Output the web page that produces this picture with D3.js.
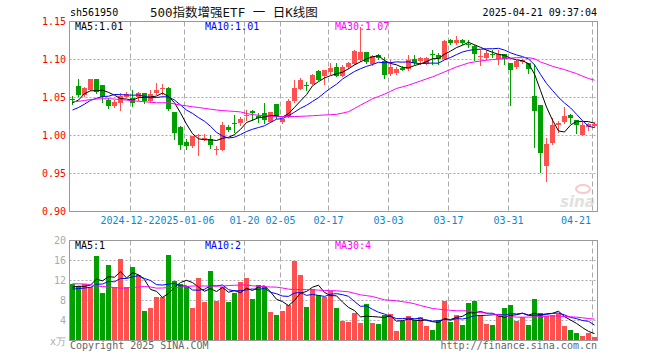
<!DOCTYPE html>
<html><head><meta charset="utf-8">
<script src="https://cdn.jsdelivr.net/npm/d3@7"></script>
<style>
body{margin:0;background:#fff}
svg{display:block}
text{font-family:'DejaVu Sans Mono',monospace;font-size:10px}
</style>
</head><body>
<svg id="c" width="660" height="360"></svg>
<script>
// ---------------- DATA ----------------
const dates = [
"2024-12-09","2024-12-10","2024-12-11","2024-12-12","2024-12-13","2024-12-16","2024-12-17","2024-12-18","2024-12-19","2024-12-20",
"2024-12-23","2024-12-24","2024-12-25","2024-12-26","2024-12-27","2024-12-30","2024-12-31",
"2025-01-02","2025-01-03","2025-01-06","2025-01-07","2025-01-08","2025-01-09","2025-01-10","2025-01-13","2025-01-14","2025-01-15","2025-01-16","2025-01-17",
"2025-01-20","2025-01-21","2025-01-22","2025-01-23","2025-01-24","2025-01-27",
"2025-02-05","2025-02-06","2025-02-07","2025-02-10","2025-02-11","2025-02-12","2025-02-13","2025-02-14","2025-02-17","2025-02-18","2025-02-19","2025-02-20","2025-02-21","2025-02-24","2025-02-25","2025-02-26","2025-02-27","2025-02-28",
"2025-03-03","2025-03-04","2025-03-05","2025-03-06","2025-03-07","2025-03-10","2025-03-11","2025-03-12","2025-03-13","2025-03-14","2025-03-17","2025-03-18","2025-03-19","2025-03-20","2025-03-21","2025-03-24","2025-03-25","2025-03-26","2025-03-27","2025-03-28","2025-03-31",
"2025-04-01","2025-04-02","2025-04-03","2025-04-07","2025-04-08","2025-04-09","2025-04-10","2025-04-11","2025-04-14","2025-04-15","2025-04-16","2025-04-17","2025-04-18","2025-04-21"];

const open = [1.0478,1.0649,1.0531,1.0605,1.074,1.0662,1.0466,1.0387,1.0431,1.0509,
1.0487,1.05,1.0562,1.0457,1.0553,1.0614,1.0631,1.0309,1.0117,0.9916,
0.9864,0.9998,0.9942,0.9951,0.9803,0.9811,1.0117,1.0169,1.016,1.0265,
1.0322,1.0252,1.0291,1.0182,1.0409,1.0182,1.0248,1.0453,1.061,1.0667,
1.0684,1.0845,1.078,1.0837,1.0902,1.078,1.0902,1.0946,1.0989,1.1099,
1.0946,1.1055,1.098,1.0815,1.0824,1.0893,1.088,1.1002,1.0975,1.0946,
1.1077,1.1055,1.1011,1.126,1.1216,1.126,1.1207,1.1173,1.1033,1.1024,
1.1072,1.1011,1.1077,1.0954,1.0902,1.0967,1.0954,1.0518,1.040,0.9602,
0.9899,1.0139,1.0178,1.0269,1.0204,1.0008,1.0117,1.0126];
const high = [1.0518,1.0749,1.064,1.074,1.074,1.0662,1.0487,1.0466,1.0553,1.0575,
1.0597,1.0575,1.0562,1.0597,1.0697,1.0675,1.064,1.0309,1.0126,0.9951,
0.9995,1.0021,1.0016,1.0007,0.9864,1.0182,1.0138,1.0269,1.024,1.0335,
1.0335,1.0291,1.0422,1.0313,1.0409,1.0217,1.0475,1.0728,1.075,1.071,
1.0806,1.0858,1.0859,1.0955,1.0955,1.0924,1.0967,1.112,1.1426,1.1099,
1.1055,1.107,1.1033,1.0998,1.0902,1.0911,1.1055,1.1055,1.1033,1.1033,
1.1129,1.1085,1.1251,1.1265,1.1303,1.1265,1.126,1.1186,1.112,1.112,
1.112,1.112,1.1077,1.0954,1.099,1.1011,1.0954,1.0946,1.040,0.9964,
1.0226,1.0196,1.037,1.0278,1.0204,1.0182,1.0169,1.0173];
const low = [1.0414,1.0518,1.052,1.0595,1.0562,1.0444,1.0357,1.0378,1.0335,1.05,
1.0387,1.0466,1.0422,1.0444,1.0544,1.0544,1.0335,0.9951,0.9824,0.982,
0.9846,0.9737,0.9942,0.9833,0.9755,0.9803,1.0064,1.0051,1.014,1.0204,
1.0204,1.0182,1.016,1.0173,1.0235,1.0169,1.0248,1.044,1.061,1.0597,
1.0675,1.0728,1.0684,1.081,1.078,1.078,1.089,1.0946,1.098,1.0955,
1.0924,1.101,1.075,1.0793,1.0815,1.0858,1.0867,1.0946,1.0946,1.094,
1.0946,1.0946,1.1011,1.1207,1.1207,1.1207,1.1164,1.0998,1.0924,1.1011,
1.1033,1.0946,1.0946,1.04,1.089,1.096,1.0824,0.9855,0.9515,0.9397,
0.989,1.0052,1.016,1.016,1.003,1.0004,1.0073,1.0117];
const close = [1.0475,1.0531,1.0627,1.074,1.0575,1.0509,1.0387,1.044,1.0518,1.0544,
1.0431,1.0562,1.0453,1.0544,1.0605,1.0623,1.0343,1.0038,0.9877,0.9868,
0.9995,1.0007,0.9973,0.9877,0.982,1.0138,1.0073,1.0152,1.022,1.027,
1.0291,1.0235,1.0204,1.0313,1.0248,1.0217,1.0453,1.0619,1.0736,1.0658,
1.0802,1.0728,1.0859,1.0893,1.078,1.0902,1.0955,1.1112,1.1099,1.0968,
1.1042,1.1024,1.0802,1.0902,1.088,1.0867,1.0998,1.0955,1.1015,1.1024,
1.1059,1.1011,1.1238,1.1216,1.126,1.1216,1.1199,1.1077,1.105,1.1085,
1.1059,1.1068,1.1011,1.0858,1.0981,1.0998,1.088,1.0326,0.9776,0.989,
1.0139,1.0169,1.0256,1.0226,1.0139,1.0139,1.0152,1.0152];
const volume = [11.34,10.94,11.34,10.8,16.94,9.6,15.14,10.8,16.34,10.67,
14.8,13.14,5.94,6.54,8.74,8.74,17.14,12.0,11.34,10.94,
6.54,12.6,7.8,14.0,8.0,10.67,7.8,9.47,11.8,12.6,
8.34,11.14,10.8,5.8,5.14,6.0,7.14,16.0,13.14,6.74,
10.27,9.14,8.8,9.94,6.54,4.0,3.8,5.6,3.6,7.34,
3.6,3.34,5.14,5.34,2.0,4.0,4.94,4.14,4.67,2.94,
2.14,4.14,8.0,3.74,5.14,3.14,7.6,8.0,5.14,3.34,
3.14,4.94,6.54,7.14,4.0,4.67,3.14,8.34,5.54,4.94,
5.14,5.34,2.94,2.14,1.54,0.94,1.54,0.74];
// closes / volumes of the 9 sessions before the window (for MA5 / MA10)
const priorClose = [1.02,1.018,1.025,1.03,1.027,1.0351,1.0207,1.055,1.0567];
const priorVolume = [9.8,10.2,9.5,10.8,9.06,10,11.5,9.5,11];
// MA30
const ma30 = [1.0444,1.045,1.046,1.0474,1.048,1.0483,1.0483,1.048,1.0473,1.0466,
1.0458,1.045,1.0444,1.0437,1.0431,1.0431,1.0431,1.0415,1.04,1.039,
1.0378,1.0368,1.0357,1.0346,1.0335,1.0328,1.0322,1.0317,1.031,1.029,
1.0274,1.0267,1.026,1.0254,1.0248,1.0248,1.0248,1.025,1.0252,1.0256,
1.026,1.0265,1.027,1.0274,1.0278,1.0295,1.0313,1.0355,1.04,1.044,
1.0483,1.0513,1.0544,1.0582,1.0619,1.064,1.0662,1.069,1.0717,1.0745,
1.0771,1.0804,1.0837,1.087,1.0902,1.0928,1.0954,1.0968,1.0981,1.099,
1.0998,1.1005,1.1011,1.1018,1.1024,1.1024,1.1024,1.1011,1.0967,1.094,
1.091,1.0888,1.0867,1.084,1.0815,1.078,1.075,1.0728];
const volMa30 = [11.34,11.34,11.3,11.2,10.9,10.8,10.7,10.6,10.47,10.5,
10.6,10.7,10.8,10.7,10.47,10.5,10.6,10.6,10.67,10.8,
10.9,10.9,10.9,10.9,10.9,10.9,11.0,11.05,11.1,11.1,
10.94,10.85,10.75,10.7,10.67,10.5,10.27,10.2,10.2,10.17,
10.14,10.08,10.0,9.97,9.94,9.84,9.74,9.44,9.14,8.97,
8.8,8.47,8.14,8.04,7.94,7.77,7.6,7.34,7.0,6.7,
6.4,6.27,6.14,6.04,5.94,5.94,5.94,5.77,5.6,5.47,
5.34,5.14,4.94,4.8,4.67,4.67,4.67,4.74,4.8,4.87,
4.94,4.87,4.8,4.74,4.67,4.54,4.4,4.27];

const priceTicks = [0.90,0.95,1.00,1.05,1.10,1.15];
const volTicks = [4,8,12,16,20];
const tickDates = ["2024-12-23","2025-01-06","2025-01-20","2025-02-05","2025-02-17","2025-03-03","2025-03-17","2025-03-31","2025-04-21"];
const tickLabels = ["2024-12-23","2025-01-06","01-20","02-05","02-17","03-03","03-17","03-31","04-21"];
const priceLegend = ["MA5:1.01","MA10:1.01","MA30:1.07"];
const volLegend = ["MA5:1","MA10:2","MA30:4"];

// ---------------- DRAW ----------------
const RED="#ff5050", GREEN="#00a000", GRID="#aaaaaa", FRAME="#999999";
const lineColors=["#000000","#0000ff","#ff00ff"];
const svg=d3.select("#c");
svg.append("rect").attr("width",660).attr("height",360).attr("fill","#fff");

const N=dates.length;
const x=d3.scaleBand().domain(d3.range(N)).range([69.5,597.5]).paddingInner(1/6).paddingOuter(1/12);
const y=d3.scaleLinear().domain([0.90,1.15]).range([211.5,21.5]);
const yv=d3.scaleLinear().domain([0,20]).range([340.5,240.5]);
const L=69.5,R=597.5;

function movAvg(prior,arr,n){
  const full=prior.concat(arr);const off=prior.length;
  return arr.map((_,i)=>d3.mean(full.slice(i+off-n+1,i+off+1)));
}
const ma5=movAvg(priorClose,close,5), ma10=movAvg(priorClose,close,10);
const vma5=movAvg(priorVolume,volume,5), vma10=movAvg(priorVolume,volume,10);

const tickIdx=tickDates.map(d=>dates.indexOf(d));

// grids
const g=svg.append("g");
g.selectAll(".hp").data(priceTicks.slice(1,-1)).enter().append("line")
 .attr("x1",L).attr("x2",R).attr("y1",d=>y(d)).attr("y2",d=>y(d))
 .attr("stroke",GRID).attr("stroke-dasharray","2,2");
g.selectAll(".hv").data(volTicks.slice(0,-1)).enter().append("line")
 .attr("x1",L).attr("x2",R).attr("y1",d=>yv(d)).attr("y2",d=>yv(d))
 .attr("stroke",GRID).attr("stroke-dasharray","2,2");
[[y(1.15),y(0.90)],[yv(20),yv(0)]].forEach(([a,b])=>{
 g.selectAll(null).data(tickIdx).enter().append("line")
  .attr("x1",i=>x(i)+0.5).attr("x2",i=>x(i)+0.5).attr("y1",a).attr("y2",b)
  .attr("stroke",GRID).attr("stroke-dasharray","5,3");
});

// watermark
const wm=svg.append("g").attr("opacity",0.55);
wm.append("ellipse").attr("cx",583).attr("cy",189).attr("rx",7).attr("ry",4).attr("fill","none").attr("stroke","#f0a0a0").attr("stroke-width",2);
wm.append("text").attr("x",560).attr("y",207).attr("fill","#c8c8c8").style("font-family","'DejaVu Sans'").style("font-size","15px").style("font-style","italic").style("font-weight","bold").text("sina");

// candles
const isUp=i=>close[i]>=open[i];
const cg=svg.append("g");
cg.selectAll("line").data(d3.range(N)).enter().append("line")
 .attr("x1",i=>x(i)+2.5).attr("x2",i=>x(i)+2.5)
 .attr("y1",i=>Math.round(y(high[i]))).attr("y2",i=>Math.round(y(low[i]))+1)
 .attr("stroke",i=>isUp(i)?RED:GREEN);
cg.selectAll("rect").data(d3.range(N)).enter().append("rect")
 .attr("x",i=>x(i)).attr("width",x.bandwidth())
 .attr("y",i=>Math.round(y(Math.max(open[i],close[i]))))
 .attr("height",i=>Math.max(1,Math.round(y(Math.min(open[i],close[i])))-Math.round(y(Math.max(open[i],close[i])))))
 .attr("fill",i=>isUp(i)?RED:GREEN);

// volume bars
svg.append("g").selectAll("rect").data(d3.range(N)).enter().append("rect")
 .attr("x",i=>x(i)).attr("width",x.bandwidth())
 .attr("y",i=>Math.round(yv(volume[i])))
 .attr("height",i=>yv(0)-Math.round(yv(volume[i])))
 .attr("fill",i=>isUp(i)?RED:GREEN);

// MA lines
const line=d3.line().x((d,i)=>x(i)+2.5);
[ma5,ma10,ma30].forEach((s,k)=>{
 svg.append("path").attr("d",line.y(d=>y(d))(s)).attr("fill","none").attr("stroke",lineColors[k]).attr("stroke-width",1);
});
[vma5,vma10,volMa30].forEach((s,k)=>{
 svg.append("path").attr("d",line.y(d=>yv(d))(s)).attr("fill","none").attr("stroke",lineColors[k]).attr("stroke-width",1);
});

// frames
svg.append("rect").attr("x",L).attr("y",y(1.15)).attr("width",R-L).attr("height",y(0.90)-y(1.15)).attr("fill","none").attr("stroke",FRAME);
svg.append("rect").attr("x",L).attr("y",yv(20)).attr("width",R-L).attr("height",yv(0)-yv(20)).attr("fill","none").attr("stroke",FRAME);

// price axis labels
svg.selectAll(".pl").data(priceTicks).enter().append("text")
 .attr("x",66).attr("y",d=>y(d)+3.5).attr("text-anchor","end").attr("fill","#ff0000")
 .text(d=>d.toFixed(2));
// volume axis labels
svg.selectAll(".vl").data(volTicks).enter().append("text")
 .attr("x",66).attr("y",d=>yv(d)+3.5).attr("text-anchor","end").attr("fill","#aaaaaa")
 .text(d=>d);
svg.append("text").attr("x",66).attr("y",yv(0)+4).attr("text-anchor","end").attr("fill","#aaaaaa").text("x万");

// date labels with white background (later label covers the earlier one, as in the source)
const dl=svg.append("g");
tickIdx.forEach((idx,k)=>{
 const t=dl.append("text").attr("y",224).attr("text-anchor","middle").attr("fill","#0b86d1").text(tickLabels[k]);
 const w=t.node().getComputedTextLength();
 let cx=x(idx)+0.5;
 if(cx+w/2>591) cx=591-w/2;
 t.attr("x",cx);
 dl.insert("rect",function(){return t.node();}).attr("x",cx-w/2).attr("y",215).attr("width",w).attr("height",11).attr("fill","#fff");
});

// legends
const legX=[75,205,335];
priceLegend.forEach((s,k)=>svg.append("text").attr("x",legX[k]).attr("y",30).attr("fill",lineColors[k]).text(s));
volLegend.forEach((s,k)=>svg.append("text").attr("x",legX[k]).attr("y",249).attr("fill",lineColors[k]).text(s));

// header / footer
svg.append("text").attr("x",70).attr("y",16).attr("fill","#000").text("sh561950");
svg.append("text").attr("x",150).attr("y",17).attr("fill","#111").style("font-size","12.5px")
 .style("font-family","'DejaVu Sans Mono','Noto Sans CJK SC',monospace").text("500指数增强ETF 一 日K线图");
svg.append("text").attr("x",597).attr("y",16).attr("text-anchor","end").attr("fill","#000").text("2025-04-21 09:37:04");
svg.append("text").attr("x",70).attr("y",349).attr("fill","#666").text("Copyright 2025 SINA.COM");
svg.append("text").attr("x",597).attr("y",349).attr("text-anchor","end").attr("fill","#666").text("http://finance.sina.com.cn");
</script>
</body></html>
